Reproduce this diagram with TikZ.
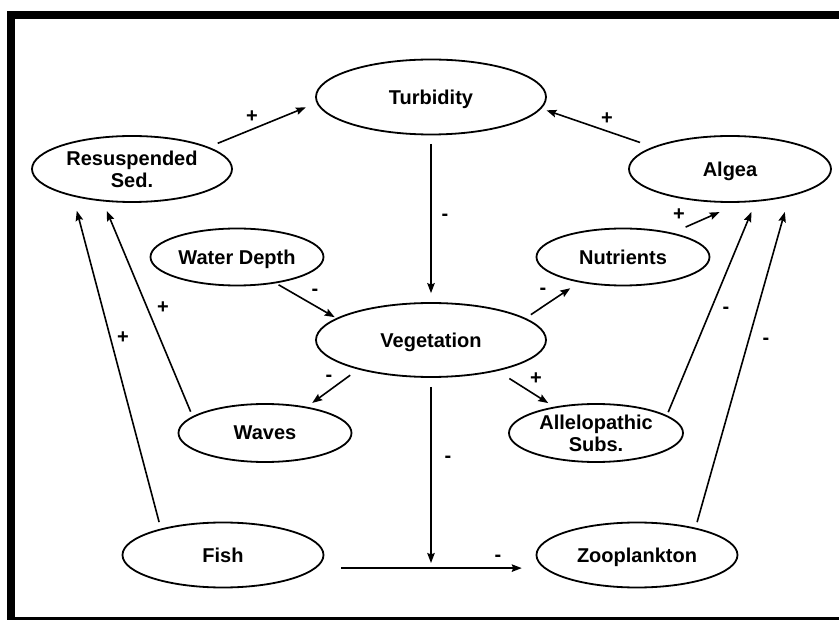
\documentclass[tikz,border=0pt]{standalone}
\usepackage{fontspec}
\setmainfont{Liberation Sans}
\usetikzlibrary{shapes.geometric,arrows.meta}
\begin{document}
\begin{tikzpicture}[x=1pt,y=-1pt,
  concept/.style={ellipse, draw, line width=1.8pt, inner sep=0pt, align=center,
    font=\fontsize{20}{22}\selectfont\bfseries},
  oneline/.style={concept, text depth=0pt},
  link/.style={line width=1.6pt, -{Stealth[length=10pt,width=7.5pt,inset=1.5pt]}},
  sign/.style={font=\fontsize{20}{22}\selectfont\bfseries, inner sep=0pt}]
\useasboundingbox (0,0) rectangle (839,620);
\fill[white] (0,0) rectangle (839,620);
% heavy frame (top, left, bottom)
\fill (7.3,10.7) rectangle (839,19);
\fill (7.3,10.7) rectangle (15,620);
\fill (7.3,617) rectangle (839,620);

% concepts
\node[oneline, minimum width=230pt, minimum height=75pt] (turb) at (431,97) {Turbidity};
\node[concept, minimum width=200pt, minimum height=66pt] (rs) at (132,169) {Resuspended\\Sed.};
\node[oneline, minimum width=202pt, minimum height=66pt] (alg) at (730,169) {Algea};
\node[oneline, minimum width=173pt, minimum height=57pt] (wd) at (237,257) {Water Depth};
\node[oneline, minimum width=173pt, minimum height=57pt] (nut) at (623,257) {Nutrients};
\node[oneline, minimum width=230pt, minimum height=74pt] (veg) at (431,340) {Vegetation};
\node[oneline, minimum width=173pt, minimum height=58pt] (wav) at (265,433) {Waves};
\node[concept, minimum width=174pt, minimum height=58pt] (alle) at (596,433) {Allelopathic\\Subs.};
\node[oneline, minimum width=201pt, minimum height=65pt] (fish) at (223,555) {Fish};
\node[oneline, minimum width=201pt, minimum height=65pt] (zoo) at (637,555) {Zooplankton};

% influences
\draw[link, shorten <=9.7pt, shorten >=11.6pt] (rs.16.5) -- (turb.183.4);
\draw[link, shorten <=13.5pt, shorten >=5.3pt] (alg.164.9) -- (turb.354.2);
\draw[link, shorten <=8.5pt, shorten >=9pt] (turb.south) -- (veg.north);
\draw[link, shorten <=3pt, shorten >=1.9pt] (wd.-34.6) -- (veg.167.6);
\draw[link, shorten <=6.3pt, shorten >=10.5pt] (veg.13.9) -- (nut.210);
\draw[link, shorten <=14.2pt, shorten >=23.3pt] (nut.26.5) -- (alg.288.6);
\draw[link, shorten <=3.4pt, shorten >=11pt] (alle.14.2) -- (alg.308.6);
\draw[link, shorten <=5.8pt, shorten >=16pt] (zoo.25.1) -- (alg.335.1);
\draw[link, shorten <=9.7pt, shorten >=6.5pt] (veg.202.9) -- (wav.32.3);
\draw[link, shorten <=14pt, shorten >=6.8pt] (veg.335.3) -- (alle.148.1);
\draw[link, shorten <=5pt, shorten >=10.3pt] (wav.167.4) -- (rs.228.4);
\draw[link, shorten <=6.7pt, shorten >=14.8pt] (fish.157) -- (rs.205.2);
\draw[link, shorten <=25pt, shorten >=22pt] (fish.-8.6) -- (zoo.188.6);
\coordinate (vj) at (431,563);
\draw[link, shorten <=9pt] (veg.south) -- (vj);

% signs
\node[sign] (s1) at (252,117) {+};
\node[sign] (s2) at (607,119) {+};
\node[sign] (s3) at (445,217) {-};
\node[sign] (s4) at (315,292) {-};
\node[sign] (s5) at (543,291) {-};
\node[sign] (s6) at (679,215) {+};
\node[sign] (s7) at (726,310) {-};
\node[sign] (s8) at (766,341) {-};
\node[sign] (s9) at (329,378) {-};
\node[sign] (s10) at (536,379) {+};
\node[sign] (s11) at (448,459) {-};
\node[sign] (s12) at (498,558) {-};
\node[sign] (s13) at (163,308) {+};
\node[sign] (s14) at (123,338) {+};
\end{tikzpicture}
\end{document}
